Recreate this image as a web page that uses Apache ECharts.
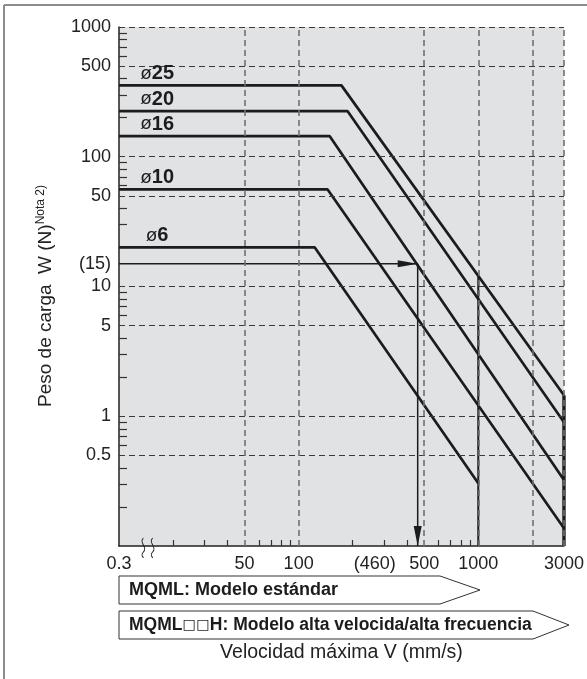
<!DOCTYPE html>
<html><head><meta charset="utf-8">
<script src="https://cdn.jsdelivr.net/npm/echarts@6/dist/echarts.min.js"></script>
<style>html,body{margin:0;padding:0;background:#fff}#c{width:587px;height:679px}</style>
</head><body><div id="c"></div>
<script>
// ---- data ----
const boreSizes  = ['25', '20', '16', '10', '6'];
const maxLoad    = [355, 225, 144, 56, 20];          // N, flat part
const breakSpeed = [173, 187, 149, 145, 123];         // mm/s where the slope starts
const endSpeed   = [3000, 3000, 3000, 3000, 1000];    // mm/s
const endLoad    = [1.45, 0.90, 0.322, 0.137, 0.305]; // N at end speed
const exampleLoad = 15;
const exampleSpeed = 460;
const stdLimit  = [[1000, 12], [1000, 0.1]];
const highLimit = [[3000, 1.45], [3000, 0.1]];
const xTickLabels = [10, 50, 100, 460, 500, 1000, 3000];
const yTickLabels = [0.5, 1, 5, 10, 15, 50, 100, 500, 1000];
const xGridValues = [50, 100, 500, 1000, 2000, 3000];
const yGridValues = [0.5, 1, 5, 10, 50, 100, 500, 1000];
const xMinorTicks = [20, 30, 40, 60, 70, 80, 90, 200, 300, 400, 600, 700, 800, 900];
const yMinorTicks = [0.2, 0.3, 0.4, 0.6, 0.7, 0.8, 0.9, 2, 3, 4, 6, 7, 8, 9, 20, 30, 40, 60, 70, 80, 90, 200, 300, 400, 600, 700, 800, 900];
const axisBreakAt = [14.5, 0.1];
const labelSpeed = 16.3;

const FONT = '"Liberation Sans", Arial, sans-serif';
const LINE = '#1c1c1c';

const chart = echarts.init(document.getElementById('c'), null, {renderer: 'canvas'});

const series = [];
// grid lines (dashed)
series.push({
  type: 'line', data: [], z: 1, silent: true,
  markLine: {
    silent: true, symbol: 'none', animation: false,
    label: {show: false},
    data: [
      ...yGridValues.map(v => ({yAxis: v, lineStyle: {color: '#3a3a3a', width: 1.1, type: [6, 4]}})),
      ...xGridValues.map(v => ({xAxis: v, lineStyle: {color: '#707070', width: 1.6, type: [6, 4]}}))
    ]
  }
});
// curves
boreSizes.forEach((s, i) => {
  series.push({
    type: 'line', name: 'ø' + s, z: 3,
    data: [[10, maxLoad[i]], [breakSpeed[i], maxLoad[i]], [endSpeed[i], endLoad[i]]],
    symbol: 'none',
    lineStyle: {color: LINE, width: 2.7},
    markPoint: {
      symbol: 'circle', symbolSize: 0, animation: false,
      data: [{coord: [labelSpeed, maxLoad[i]]}],
      label: {
        show: true, position: 'top', distance: 2,
        formatter: '{o|ø}{n|' + s + '}',
        rich: {
          o: {fontFamily: FONT, fontSize: 19, color: LINE, fontWeight: 'normal'},
          n: {fontFamily: FONT, fontSize: 20, color: LINE, fontWeight: 'bold'}
        }
      }
    }
  });
});
// speed limit lines
series.push({type: 'line', data: stdLimit, symbol: 'none', z: 3, lineStyle: {color: LINE, width: 2}});
series.push({type: 'line', data: highLimit, symbol: 'none', z: 3, lineStyle: {color: LINE, width: 3.4}});
// example reading
series.push({
  type: 'line', z: 4, lineStyle: {color: LINE, width: 1.5},
  data: [
    {value: [10, exampleLoad], symbol: 'none'},
    {value: [exampleSpeed, exampleLoad], symbol: 'triangle', symbolSize: [7, 20], symbolRotate: -90, symbolOffset: [-10, 0], itemStyle: {color: LINE}}
  ]
});
series.push({
  type: 'line', z: 4, lineStyle: {color: LINE, width: 1.5},
  data: [
    {value: [exampleSpeed, exampleLoad], symbol: 'none'},
    {value: [exampleSpeed, 0.1], symbol: 'triangle', symbolSize: [8, 20], symbolRotate: 180, symbolOffset: [0, -10], itemStyle: {color: LINE}}
  ]
});
// axis break mark
series.push({
  type: 'line', data: [], z: 5,
  markPoint: {
    animation: false,
    symbol: 'path://M3,0 C0,5 6,9 3,14 C1,17 3,19 3,20 M9,0 C6,5 12,9 9,14 C7,17 9,19 9,20',
    symbolSize: [12, 20], symbolOffset: [0, 2],
    itemStyle: {color: 'rgba(0,0,0,0)', borderColor: '#222', borderWidth: 1.1},
    label: {show: false},
    data: [{coord: axisBreakAt}]
  }
});

const option = {
  animation: false,
  backgroundColor: '#ffffff',
  grid: {left: 119, right: 20, top: 27, bottom: 133, show: true, backgroundColor: '#e1e2e4', borderWidth: 0},
  xAxis: {
    type: 'log', logBase: 10, min: 10, max: 3000,
    name: 'Velocidad máxima V (mm/s)', nameLocation: 'middle', nameGap: 97,
    nameTextStyle: {fontFamily: FONT, fontSize: 19.5, color: '#222'},
    axisLine: {show: true, lineStyle: {color: '#222', width: 1.5}},
    axisTick: {show: true, inside: true, length: 6, customValues: xMinorTicks, lineStyle: {color: '#333', width: 1.2}},
    minorTick: {show: false},
    splitLine: {show: false},
    axisLabel: {
      show: true, customValues: xTickLabels, margin: 9,
      fontFamily: FONT, fontSize: 18, color: '#222',
      formatter: v => {
        if (Math.abs(v - 10) < 1e-6) return '0.3';
        if (Math.abs(v - 460) < 1e-6) return '{s|(460)}';
        return String(Math.round(v));
      },
      rich: {s: {fontFamily: FONT, fontSize: 18, color: '#222', padding: [0, 86, 0, 0]}}
    }
  },
  yAxis: {
    type: 'log', logBase: 10, min: 0.1, max: 1000,
    axisLine: {show: true, lineStyle: {color: '#222', width: 1.5}},
    axisTick: {show: true, inside: true, length: 8, customValues: yMinorTicks, lineStyle: {color: '#333', width: 1.2}},
    minorTick: {show: false},
    splitLine: {show: false},
    axisLabel: {
      show: true, customValues: yTickLabels, margin: 8,
      fontFamily: FONT, fontSize: 18, color: '#222',
      formatter: v => (Math.abs(v - 15) < 1e-6 ? '(15)' : String(v))
    }
  },
  series: series,
  graphic: [
    {type: 'line', shape: {x1: 4, y1: 5, x2: 4, y2: 679}, style: {stroke: '#8c8c8c', lineWidth: 2}, silent: true},
    {type: 'line', shape: {x1: 4, y1: 5, x2: 587, y2: 5}, style: {stroke: '#8c8c8c', lineWidth: 2}, silent: true},
    {type: 'polygon', shape: {points: [[119, 576], [440, 576], [480, 590], [440, 604], [119, 604]]},
      style: {fill: '#fff', stroke: '#333', lineWidth: 1}},
    {type: 'polygon', shape: {points: [[119, 611], [533, 611], [569, 625], [533, 639], [119, 639]]},
      style: {fill: '#fff', stroke: '#333', lineWidth: 1}},
    {type: 'text', x: 129, y: 590, style: {text: 'MQML: Modelo estándar', font: 'bold 18px ' + FONT, fill: '#1c1c1c', textVerticalAlign: 'middle'}},
    {type: 'text', x: 129, y: 625, style: {
      text: '{m|MQML}{q|□□}{m|H: Modelo alta velocida/alta frecuencia}',
      textVerticalAlign: 'middle',
      rich: {
        m: {fontFamily: FONT, fontSize: 17.5, fontWeight: 'bold', fill: '#1c1c1c'},
        q: {fontFamily: '"DejaVu Sans"', fontSize: 14.5, fontWeight: 'normal', fill: '#1c1c1c'}
      }
    }},
    {type: 'text', x: 46, y: 296, rotation: Math.PI / 2,
      style: {
        text: '{a|Peso de carga  W (N)}{b|Nota 2)}',
        textAlign: 'center', textVerticalAlign: 'middle',
        rich: {
          a: {fontFamily: FONT, fontSize: 19, fill: '#222', lineHeight: 22},
          b: {fontFamily: FONT, fontSize: 12, fill: '#222', verticalAlign: 'top', lineHeight: 22}
        }
      }}
  ]
};
chart.setOption(option);
</script>
</body></html>
